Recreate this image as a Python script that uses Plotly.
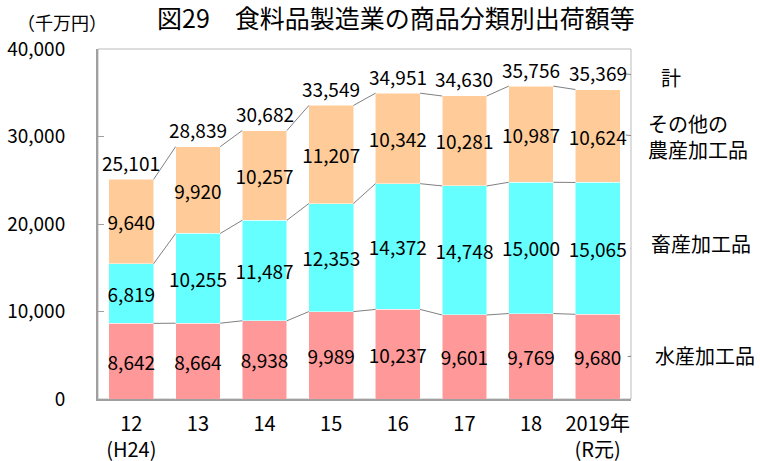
import plotly.graph_objects as go

years = ["12<br>(H24)", "13", "14", "15", "16", "17", "18", "2019年<br>(R元)"]
suisan = [8642, 8664, 8938, 9989, 10237, 9601, 9769, 9680]
chikusan = [6819, 10255, 11487, 12353, 14372, 14748, 15000, 15065]
sonota = [9640, 9920, 10257, 11207, 10342, 10281, 10987, 10624]
totals = [25101, 28839, 30682, 33549, 34951, 34630, 35756, 35369]
series_names = ["水産加工品", "畜産加工品", "その他の<br>農産加工品", "計"]
y_ticks = [0, 10000, 20000, 30000, 40000]

FONT = "Noto Sans CJK JP"
colors = ["#FF9999", "#66FFFF", "#FFCC99"]
BW = 0.67
xs = list(range(len(years)))

fig = go.Figure()
for vals, col, nm in zip([suisan, chikusan, sonota], colors, series_names[:3]):
    fig.add_trace(go.Bar(
        x=xs, y=vals, name=nm, width=BW,
        marker=dict(color=col, line=dict(color="rgba(255,255,255,0.5)", width=1)),
        text=[f"{v:,}" for v in vals], textposition="inside",
        insidetextanchor="middle", constraintext="none", textangle=0,
        textfont=dict(family=FONT, size=19, color="black"),
        hoverinfo="skip",
    ))

# connector lines between stacked segment tops
cum1 = suisan
cum2 = [a + b for a, b in zip(suisan, chikusan)]
cum3 = [a + b + c for a, b, c in zip(suisan, chikusan, sonota)]
for cum in [cum1, cum2, cum3]:
    lx, ly = [], []
    for i in range(len(xs) - 1):
        lx += [xs[i] + BW / 2, xs[i + 1] - BW / 2, None]
        ly += [cum[i], cum[i + 1], None]
    fig.add_trace(go.Scatter(x=lx, y=ly, mode="lines",
                             line=dict(color="#808080", width=1),
                             hoverinfo="skip", showlegend=False))

annotations = []
for x, t in zip(xs, totals):
    annotations.append(dict(xref="x", yref="y", x=x, y=t, yshift=17, showarrow=False,
                            xanchor="center", yanchor="middle", text=f"{t:,}",
                            font=dict(family=FONT, size=19, color="black")))

last = len(xs) - 1
mids = [suisan[last] / 2,
        suisan[last] + chikusan[last] / 2,
        suisan[last] + chikusan[last] + sonota[last] / 2,
        totals[last]]
# leader lines (pixel offsets from the last bar's point)
leaders = [(30, 47, 0, 2), (33, 47, 0, 6), (28, 47, 1, -1), (28, 50, 15.5, 13.5)]
label_shift = [(55, 1.5), (51, 5), (48, 0), (61, 12)]
shapes = []
for m, (x0, x1, y0, y1), (xs_, ys_), nm in zip(mids, leaders, label_shift, series_names):
    shapes.append(dict(type="line", xref="x", yref="y", xsizemode="pixel", ysizemode="pixel",
                       xanchor=last, yanchor=m, x0=x0, x1=x1, y0=y0, y1=y1,
                       line=dict(color="#808080", width=1)))
    annotations.append(dict(xref="x", yref="y", x=last, y=m, xshift=xs_, yshift=ys_,
                            xanchor="left", yanchor="middle", align="left", showarrow=False,
                            text=nm, font=dict(family=FONT, size=20, color="black")))

annotations.append(dict(xref="paper", yref="paper", x=0, y=1, xshift=-83, yshift=27,
                        xanchor="left", yanchor="middle", showarrow=False, text="（千万円）",
                        font=dict(family=FONT, size=18, color="black")))

fig.update_layout(
    width=760, height=461,
    margin=dict(l=98, r=129, t=49, b=62),
    paper_bgcolor="white", plot_bgcolor="white",
    barmode="stack", showlegend=False,
    title=dict(text="図29　食料品製造業の商品分類別出荷額等", x=396 / 760, xref="container",
               y=1 - 19 / 461, yanchor="middle", xanchor="center",
               font=dict(family=FONT, size=25, color="black")),
    xaxis=dict(range=[-0.5, len(xs) - 0.5], tickvals=xs, ticktext=years,
               showgrid=False, zeroline=False, showline=True, linecolor="#A0A0A0",
               linewidth=2, ticks="", tickfont=dict(family=FONT, size=20, color="black"),
               automargin=False, ticklabelstandoff=6),
    yaxis=dict(range=[0, 40000], tickvals=y_ticks, tickformat=",", showgrid=False,
               zeroline=False, showline=True, linecolor="#A0A0A0", linewidth=2,
               ticks="inside", ticklen=6, tickcolor="#A0A0A0",
               ticklabelstandoff=27, automargin=False,
               tickfont=dict(family=FONT, size=19, color="black")),
    shapes=shapes + [dict(type="rect", xref="paper", yref="paper", x0=0, x1=1, y0=0, y1=1,
                          line=dict(color="#BBBBBB", width=1), layer="below")],
    annotations=annotations,
)

fig.write_html("out.html", post_script="document.body.style.margin='0';",
               config={"displayModeBar": False})
